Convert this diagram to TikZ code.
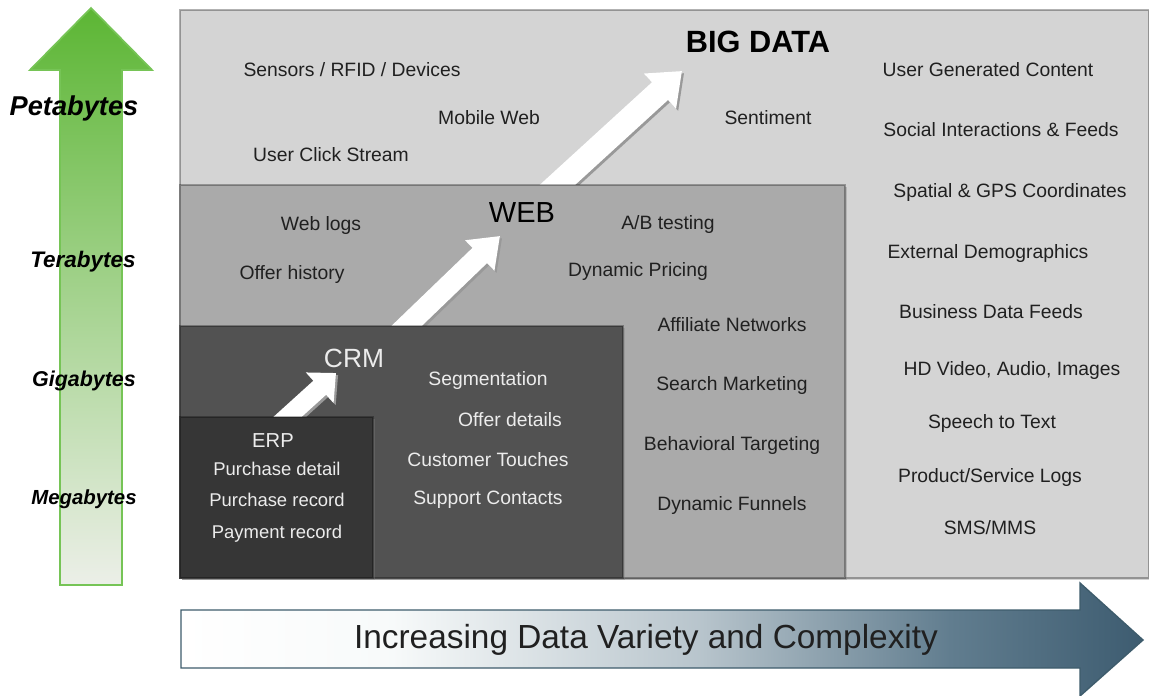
\documentclass[tikz,border=0pt]{standalone}
\usepackage{fontspec}
\setmainfont{Liberation Sans}
\usetikzlibrary{arrows.meta,shadows}

\definecolor{bigdatagray}{RGB}{212,212,212}
\definecolor{webgray}{RGB}{170,170,170}
\definecolor{crmgray}{RGB}{82,82,82}
\definecolor{erpgray}{RGB}{54,54,54}
\definecolor{volgreen}{RGB}{92,182,52}
\definecolor{volmid}{RGB}{160,210,130}
\definecolor{volpale}{RGB}{236,239,232}
\definecolor{volrim}{RGB}{118,196,86}
\definecolor{slaterim}{RGB}{62,92,108}
\definecolor{labelink}{RGB}{32,32,32}
\definecolor{darkink}{RGB}{236,236,236}

\pgfdeclarehorizontalshading{varietyshade}{100bp}{rgb(0bp)=(1,1,1); rgb(25bp)=(1,1,1); rgb(36bp)=(0.97,0.98,0.98); rgb(52bp)=(0.72,0.77,0.80); rgb(65bp)=(0.38,0.49,0.56); rgb(75bp)=(0.24,0.36,0.44); rgb(100bp)=(0.24,0.36,0.44)}

\tikzset{
  databox/.style={draw=black, draw opacity=0.3, line width=0.8pt, drop shadow={shadow xshift=1.2pt, shadow yshift=-1.2pt, opacity=0.35}},
  lbl/.style={text=labelink, font=\fontsize{11}{13}\selectfont},
  lbllight/.style={text=darkink, font=\fontsize{10.5}{12}\selectfont},
  tierlbl/.style={text=black, font=\bfseries\itshape\fontsize{#1}{#1}\selectfont},
  growarrow/.style n args={3}{line width=#1, draw=white, -{Triangle[width=#2, length=#3]},
    preaction={draw=black!40, line width=#1, -{Triangle[width=#2, length=#3]}, transform canvas={shift={(1.2pt,-1.2pt)}}}}
}

\begin{document}
\begin{tikzpicture}[x=0.02cm, y=-0.02cm]

\useasboundingbox (0,0) rectangle (1149,696);

\path [draw=volrim, line width=1pt, top color=volgreen, middle color=volmid, bottom color=volpale] (60,585) -- (60,70) -- (30,70) -- (91,8) -- (152,70) -- (122,70) -- (122,585) -- cycle;

\path [databox, fill=bigdatagray] (180,10) rectangle (1149,578);

\coordinate (webtail) at (542,199);
\coordinate (webtip) at (682,71);
\draw [growarrow={13.6pt}{26pt}{17pt}] (webtail) -- (webtip);

\path [databox, fill=webgray] (180,185) rectangle (845,578);

\coordinate (crmtail) at (392,340);
\coordinate (crmtip) at (500,236);
\draw [growarrow={12pt}{23pt}{16pt}] (crmtail) -- (crmtip);

\path [databox, fill=crmgray] (180,326) rectangle (623,578);

\coordinate (erptail) at (272,431);
\coordinate (erptip) at (336,373);
\draw [growarrow={10.8pt}{22.7pt}{12.5pt}] (erptail) -- (erptip);

\path [databox, fill=erpgray] (180,417) rectangle (373,578);

\node [tierlbl=15.5] (peta) at (74,108) {Petabytes};
\node [tierlbl=12.8] (tera) at (83,262) {Terabytes};
\node [tierlbl=12.2] (giga) at (84,381) {Gigabytes};
\node [tierlbl=11.6] (mega) at (84,499) {Megabytes};

\node [text=black, font=\bfseries\fontsize{17.5}{19}\selectfont] (bigdata) at (758,42) {BIG DATA};
\node [lbl] (sensors) at (352,70) {Sensors / RFID / Devices};
\node [lbl] (mobile) at (489,118) {Mobile Web};
\node [lbl] (clicks) at (331,155) {User Click Stream};
\node [lbl] (sentiment) at (768,118) {Sentiment};
\node [lbl] (ugc) at (988,70) {User Generated Content};
\node [lbl] (social) at (1001,130) {Social Interactions \& Feeds};
\node [lbl] (gps) at (1010,193) {Spatial \& GPS Coordinates};
\node [lbl] (demo) at (988,254) {External Demographics};
\node [lbl] (feeds) at (991,312) {Business Data Feeds};
\node [lbl] (video) at (1012,370) {HD Video, Audio, Images};
\node [lbl] (speech) at (992,423) {Speech to Text};
\node [lbl] (logs) at (990,477) {Product/Service Logs};
\node [lbl] (sms) at (990,528) {SMS/MMS};

\node [text=black, font=\fontsize{16.5}{18}\selectfont] (web) at (522,213) {WEB};
\node [lbl] (weblogs) at (321,226) {Web logs};
\node [lbl] (offerhist) at (292,275) {Offer history};
\node [lbl] (abtest) at (668,225) {A/B testing};
\node [lbl] (pricing) at (638,272) {Dynamic Pricing};
\node [lbl] (affiliate) at (732,325) {Affiliate Networks};
\node [lbl] (search) at (732,385) {Search Marketing};
\node [lbl] (behave) at (732,445) {Behavioral Targeting};
\node [lbl] (funnels) at (732,505) {Dynamic Funnels};

\node [text=darkink, font=\fontsize{15}{17}\selectfont] (crm) at (354,358) {CRM};
\node [lbllight, font=\fontsize{11}{13}\selectfont] (segment) at (488,380) {Segmentation};
\node [lbllight, font=\fontsize{11}{13}\selectfont] (offerdet) at (510,420) {Offer details};
\node [lbllight, font=\fontsize{11}{13}\selectfont] (touches) at (488,460) {Customer Touches};
\node [lbllight, font=\fontsize{11}{13}\selectfont] (support) at (488,500) {Support Contacts};

\node [text=darkink, font=\fontsize{11.5}{13}\selectfont] (erp) at (273,441) {ERP};
\node [lbllight] (purdetail) at (277,469) {Purchase detail};
\node [lbllight] (purrecord) at (277,500) {Purchase record};
\node [lbllight] (payrecord) at (277,534) {Payment record};

\path [draw=slaterim, line width=0.8pt, shading=varietyshade] (181,610) -- (1080,610) -- (1080,583) -- (1143,640) -- (1080,696) -- (1080,668) -- (181,668) -- cycle;
\node [text=labelink, font=\fontsize{19}{22}\selectfont] (variety) at (646,640) {Increasing Data Variety and Complexity};

\end{tikzpicture}
\end{document}
